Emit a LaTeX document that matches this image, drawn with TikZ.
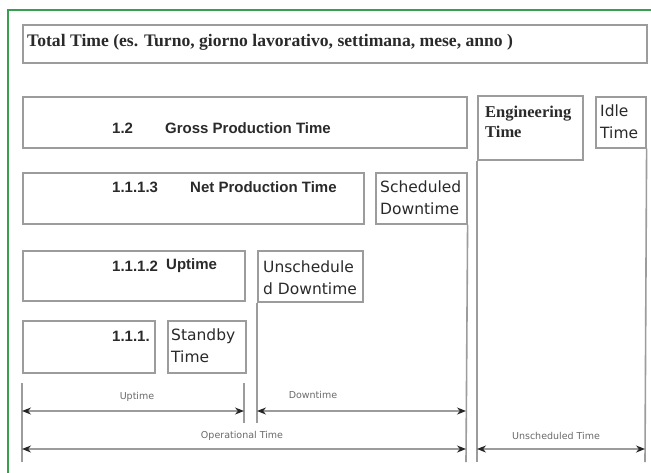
\documentclass[tikz,border=0pt]{standalone}
\usepackage{fontspec}
\setmainfont{DejaVu Sans}
\newfontfamily\tnr{Liberation Serif}
\newfontfamily\arl{Liberation Sans}
\usetikzlibrary{arrows.meta}
\definecolor{boxgray}{HTML}{9C9C9C}
\definecolor{frame}{HTML}{3A9E50}
\definecolor{txt}{HTML}{2A2A2A}
\definecolor{small}{HTML}{6A6A6A}
\begin{document}
\begin{tikzpicture}[x=1pt,y=-1pt,
  box/.style={draw=boxgray,line width=1.6pt,inner sep=0pt,anchor=north west,fill=white},
  vline/.style={draw=boxgray,line width=1.6pt},
  dim/.style={draw=boxgray,line width=1.4pt,{Stealth[black!85,length=9pt,width=7pt]}-{Stealth[black!85,length=9pt,width=7pt]}},
  reg/.style={inner sep=0pt,anchor=west,align=left,text=txt,font=\fontsize{15.5}{22}\selectfont},
  bsans/.style={inner sep=0pt,anchor=west,text=txt,font=\arl\bfseries\fontsize{15}{18}\selectfont},
  bserif/.style={inner sep=0pt,anchor=west,align=left,text=txt,font=\tnr\bfseries\fontsize{16.5}{20}\selectfont},
  tiny/.style={inner sep=0pt,text=small,font=\fontsize{9.5}{11}\selectfont}]
\useasboundingbox (0,0) rectangle (651,472);
\fill[white] (0,0) rectangle (651,472);
\draw[frame,line width=2pt] (660,10) -- (8,10) -- (8,480);
% boxes
\node[box,minimum width=624pt,minimum height=38pt] (total) at (22,24) {};
\node[box,minimum width=444pt,minimum height=51pt] (gross) at (22,96) {};
\node[box,minimum width=105pt,minimum height=64pt] (eng) at (477,95) {};
\node[box,minimum width=50pt,minimum height=51pt] (idle) at (595,96) {};
\node[box,minimum width=341pt,minimum height=51pt] (net) at (22,172) {};
\node[box,minimum width=91pt,minimum height=51pt] (sched) at (375,172) {};
\node[box,minimum width=222pt,minimum height=50pt] (up) at (22,250) {};
\node[box,minimum width=105pt,minimum height=51pt] (unsched) at (257,250) {};
\node[box,minimum width=132pt,minimum height=52pt] (base) at (22,320) {};
\node[box,minimum width=78pt,minimum height=52pt] (standby) at (167,320) {};
% coordinates
\coordinate (l1) at (22,383);  \coordinate (l2) at (22,462);
\coordinate (u1) at (244,383); \coordinate (u2) at (244,423);
\coordinate (d2) at (257,423);
\coordinate (s2) at (466,462);
\coordinate (e2) at (477,462);
\coordinate (i2) at (645,462);
\coordinate (aL) at (22,411);  \coordinate (aU) at (244,411);
\coordinate (aD) at (257,411); \coordinate (aS) at (466,411);
\coordinate (bL) at (22,449);  \coordinate (bS) at (466,449);
\coordinate (bE) at (477,449); \coordinate (bI) at (645,449);
% vertical lines
\draw[vline] (l1) -- (l2);
\draw[vline] (u1) -- (u2);
\draw[vline] (unsched.south west) -- (d2);
\draw[vline] (sched.south east) -- (s2);
\draw[vline] (eng.south west) -- (e2);
\draw[vline] (idle.south east) -- (i2);
% arrows
\draw[dim] (aL) -- (aU);
\draw[dim] (aD) -- (aS);
\draw[dim] (bL) -- (bS);
\draw[dim] (bE) -- (bI);
% texts
\node[bserif,font=\tnr\bfseries\fontsize{17.6}{20}\selectfont] (t0) at (27,42) {Total Time (es. Turno, giorno lavorativo, settimana, mese, anno )};
\node[bsans] (n12) at (112,128) {1.2};
\node[bsans] (t12) at (165,128) {Gross Production Time};
\node[bsans] (n1113) at (112,187) {1.1.1.3};
\node[bsans] (t1113) at (190,187) {Net Production Time};
\node[bsans] (n1112) at (112,266) {1.1.1.2};
\node[bsans] (t1112) at (166,266) {Uptime};
\node[bsans] (n111) at (112,336) {1.1.1.};
\node[reg] (tsched) at (380,198) {Scheduled\\Downtime};
\node[reg] (tunsched) at (263,278) {Unschedule\\d Downtime};
\node[reg] (tstandby) at (171,346) {Standby\\Time};
\node[bserif] (teng) at (485,122) {Engineering\\Time};
\node[reg] (tidle) at (600,122) {Idle\\Time};
\node[tiny] (lup) at (137,397) {Uptime};
\node[tiny] (ldown) at (313,395) {Downtime};
\node[tiny] (lop) at (242,436) {Operational Time};
\node[tiny] (lun) at (556,436) {Unscheduled Time};
\end{tikzpicture}
\end{document}
